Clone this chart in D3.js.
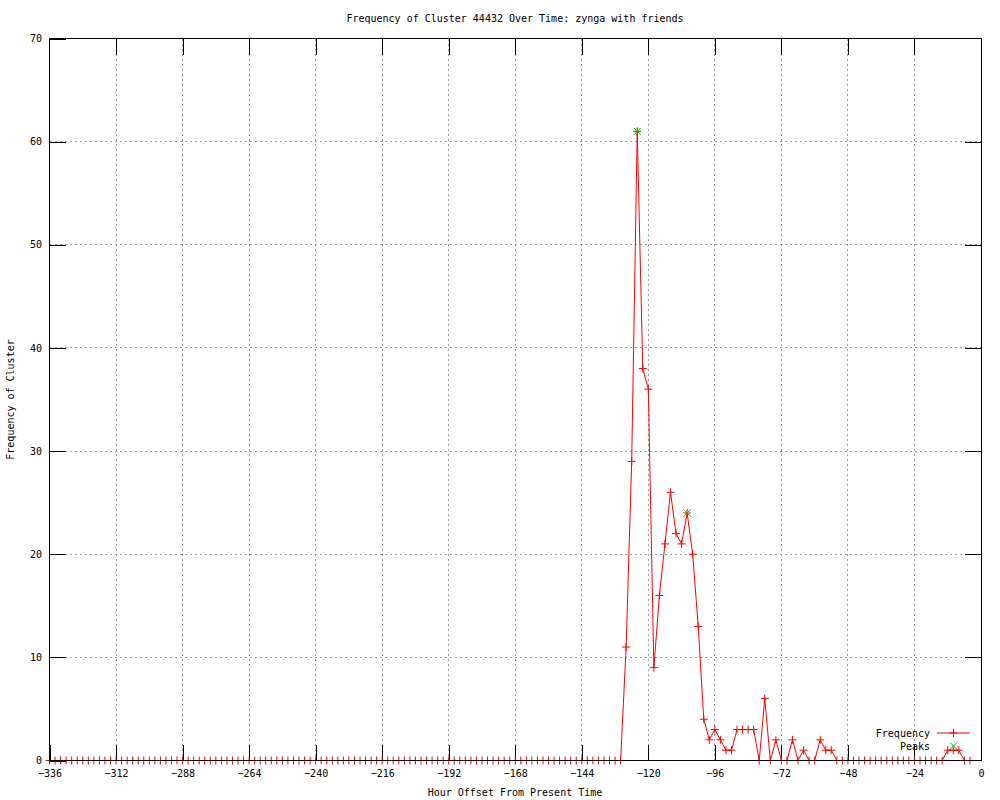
<!DOCTYPE html>
<html>
<head>
<meta charset="utf-8">
<script src="https://cdn.jsdelivr.net/npm/d3@7"></script>
<style>
  body { margin: 0; background: #fff; }
  svg { display: block; }
  text { font-family: "DejaVu Sans Mono", monospace; font-size: 10px; fill: #000; }
</style>
</head>
<body>
<svg id="chart" width="1000" height="800"></svg>
<script>
// frequency per 2-hour bucket, from -336 to -4
var freq = [
  0,0,0,0,0,0,0,0,0,0, 0,0,0,0,0,0,0,0,0,0,
  0,0,0,0,0,0,0,0,0,0, 0,0,0,0,0,0,0,0,0,0,
  0,0,0,0,0,0,0,0,0,0, 0,0,0,0,0,0,0,0,0,0,
  0,0,0,0,0,0,0,0,0,0, 0,0,0,0,0,0,0,0,0,0,
  0,0,0,0,0,0,0,0,0,0, 0,0,0,0,0,0,0,0,0,0,
  0,0,0,0,
  11,29,61,38,36,9,16,21,26,22,
  21,24,20,13,4,2,3,2,1,1,
  3,3,3,3,0,6,0,2,0,0,
  2,0,1,0,0,2,1,1,0,
  0,0,0,0,0,0,0,0,0,0, 0,0,0,0,0,0,0,0,0,
  1,1,1,0,0
];
var hours = d3.range(-336, -2, 2);

var peakHours = [-124, -106];
var peakValues = [61, 24];

var xTicks = [-336, -312, -288, -264, -240, -216, -192, -168, -144, -120, -96, -72, -48, -24, 0];
var yTicks = [0, 10, 20, 30, 40, 50, 60, 70];

var svg = d3.select("#chart");

var pLeft = 49.5, pRight = 981, pTop = 38.5, pBottom = 760.5;

var x = d3.scaleLinear().domain([-336, 0]).range([pLeft, pRight]);
var y = d3.scaleLinear().domain([0, 70]).range([pBottom, pTop]);

svg.append("rect").attr("width", 1000).attr("height", 800).attr("fill", "#fff");

// grid
var grid = svg.append("g").attr("shape-rendering", "crispEdges")
    .attr("stroke", "#a0a0a0").attr("stroke-dasharray", "2,3");
grid.selectAll("line.gx").data(xTicks.slice(1, -1)).enter().append("line")
    .attr("x1", function(d) { return x(d); }).attr("x2", function(d) { return x(d); })
    .attr("y1", pTop).attr("y2", pBottom);
grid.selectAll("line.gy").data(yTicks.slice(1, -1)).enter().append("line")
    .attr("x1", pLeft).attr("x2", pRight)
    .attr("y1", function(d) { return y(d); }).attr("y2", function(d) { return y(d); });

// axes, ticks pointing inwards
function styleAxis(g) {
  g.select(".domain").remove();
  g.selectAll(".tick line").attr("stroke", "#000");
  g.attr("font-family", null).attr("font-size", null).attr("shape-rendering", "crispEdges");
}

svg.append("g").attr("transform", "translate(0," + pBottom + ")")
    .call(d3.axisBottom(x).tickValues(xTicks).tickSizeInner(-16).tickSizeOuter(0).tickPadding(9.5))
    .call(styleAxis);
svg.append("g").attr("transform", "translate(0," + pTop + ")")
    .call(d3.axisTop(x).tickValues(xTicks.slice(1, -1)).tickSizeInner(-16).tickSizeOuter(0).tickFormat(""))
    .call(styleAxis);
svg.append("g").attr("transform", "translate(" + pLeft + ",0)")
    .call(d3.axisLeft(y).tickValues(yTicks).tickSizeInner(-16).tickSizeOuter(0).tickPadding(7.5))
    .call(styleAxis);
svg.append("g").attr("transform", "translate(" + pRight + ",0)")
    .call(d3.axisRight(y).tickValues(yTicks.slice(1, -1)).tickSizeInner(-16).tickSizeOuter(0).tickFormat(""))
    .call(styleAxis);

// frequency line
var line = d3.line()
    .x(function(d, i) { return x(hours[i]); })
    .y(function(d) { return y(d); });

svg.append("path").datum(freq)
    .attr("fill", "none").attr("stroke", "#ff0000").attr("stroke-width", 1)
    .attr("d", line);

var plus = "M-4,0H4M0,-4V4";
var cross = "M-3.5,-3.5L3.5,3.5M-3.5,3.5L3.5,-3.5";

svg.append("g").selectAll("path").data(freq).enter().append("path")
    .attr("transform", function(d, i) { return "translate(" + x(hours[i]) + "," + y(d) + ")"; })
    .attr("d", plus).attr("stroke", "#ff0000").attr("fill", "none");

svg.append("g").selectAll("path").data(peakValues).enter().append("path")
    .attr("transform", function(d, i) { return "translate(" + x(peakHours[i]) + "," + y(d) + ")"; })
    .attr("d", cross).attr("stroke", "#00c000").attr("fill", "none");

// border
svg.append("rect").attr("x", pLeft).attr("y", pTop)
    .attr("width", pRight - pLeft).attr("height", pBottom - pTop)
    .attr("fill", "none").attr("stroke", "#000").attr("shape-rendering", "crispEdges");

// titles
svg.append("text").attr("x", 515).attr("y", 22).attr("text-anchor", "middle")
    .text("Frequency of Cluster 44432 Over Time: zynga with friends");
svg.append("text").attr("x", 515).attr("y", 796).attr("text-anchor", "middle")
    .text("Hour Offset From Present Time");
svg.append("text").attr("transform", "translate(14," + ((pTop + pBottom) / 2) + ") rotate(-90)")
    .attr("text-anchor", "middle").text("Frequency of Cluster");

// legend
var legend = svg.append("g");
legend.append("text").attr("x", 930).attr("y", 736.5).attr("text-anchor", "end").text("Frequency");
legend.append("line").attr("x1", 937).attr("x2", 970).attr("y1", 733).attr("y2", 733)
    .attr("stroke", "#ff0000");
legend.append("path").attr("transform", "translate(953.5,733)").attr("d", plus)
    .attr("stroke", "#ff0000").attr("fill", "none");
legend.append("text").attr("x", 930).attr("y", 749.5).attr("text-anchor", "end").text("Peaks");
legend.append("path").attr("transform", "translate(953.5,746)").attr("d", cross)
    .attr("stroke", "#00c000").attr("fill", "none");
</script>
</body>
</html>
